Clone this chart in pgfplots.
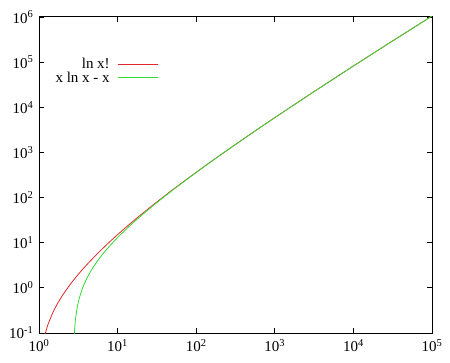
\documentclass[border=0pt]{standalone}
\usepackage{pgfplots}
\pgfplotsset{compat=1.18}
\usepackage{fontspec}
\setmainfont{Liberation Serif}
\definecolor{gpred}{RGB}{225,40,40}
\definecolor{gpgreen}{RGB}{50,220,50}
\begin{document}
\begin{tikzpicture}
\begin{axis}[name=ax,
  scale only axis, width=393bp, height=316bp,
  xmode=log, ymode=log,
  xmin=1, xmax=1e5, ymin=0.1, ymax=1e6,
  xtick={1,10,100,1000,10000,100000},
  xticklabels={10\textsuperscript{0},10\textsuperscript{1},10\textsuperscript{2},10\textsuperscript{3},10\textsuperscript{4},10\textsuperscript{5}},
  ytick={0.1,1,10,100,1000,10000,100000,1000000},
  yticklabels={10\textsuperscript{-1},10\textsuperscript{0},10\textsuperscript{1},10\textsuperscript{2},10\textsuperscript{3},10\textsuperscript{4},10\textsuperscript{5},10\textsuperscript{6}},
  minor tick length=0pt,
  major tick length=5bp,
  tick align=inside,
  tick style={black, line width=0.8pt},
  axis line style={line width=1pt},
  tick label style={font=\fontsize{15bp}{17bp}\selectfont},
  yticklabel style={xshift=-2bp},
  xticklabel style={yshift=-3bp},
  legend style={draw=none, fill=none, at={(0.312,0.883)}, anchor=north east, font=\fontsize{15bp}{17bp}\selectfont, row sep=-2bp, column sep=6bp},
  legend cell align=right,
  legend plot pos=right,
  legend image code/.code={\draw[#1, line width=1pt] (0cm,0cm) -- (1.4cm,0cm);},
]
\addplot[gpred, line width=0.8pt] coordinates {
(1.1,0.04544) (1.2,0.09695) (1.3,0.15418) (1.5,0.28468) (1.7,0.434818) (2,0.693147) (2.5,1.20097) (3,1.791759) (3.5,2.453737) (4,3.178054) (5,4.787492) (6,6.579251) (7,8.525161) (8,10.604603) (10,15.104413) (12,19.987214) (15,27.899271) (20,42.335616) (30,74.658236) (50,148.477767) (100,363.739376) (200,863.231987) (500,2611.330) (1000,5912.128) (3000,21024.0) (10000,82108.9) (30000,279274.7) (100000,1051299.2)
};
\addlegendentry{ln x!}
\addplot[gpgreen, line width=0.8pt] coordinates {
(2.76,0.042) (2.78,0.0624) (2.8,0.0829) (2.82,0.1036) (2.85,0.1349) (2.9,0.1877) (3,0.2958) (3.1,0.4074) (3.2,0.5221) (3.3,0.6399) (3.5,0.8847) (3.7,1.1408) (4,1.5452) (4.5,2.2683) (5,3.0472) (6,4.7506) (7,6.6214) (8,8.6355) (10,13.0259) (12,17.8189) (15,25.6208) (20,39.9146) (30,72.0359) (50,145.601) (100,360.517) (200,859.663) (500,2607.304) (1000,5907.755) (3000,21019.1) (10000,82103.4) (30000,279268.6) (100000,1051292.5)
};
\addlegendentry{x ln x - x}
\end{axis}
\pgfresetboundingbox
\path[use as bounding box] ([shift={(-39bp,-30bp)}]ax.south west) rectangle ([shift={(18bp,17bp)}]ax.north east);
\end{tikzpicture}
\end{document}
